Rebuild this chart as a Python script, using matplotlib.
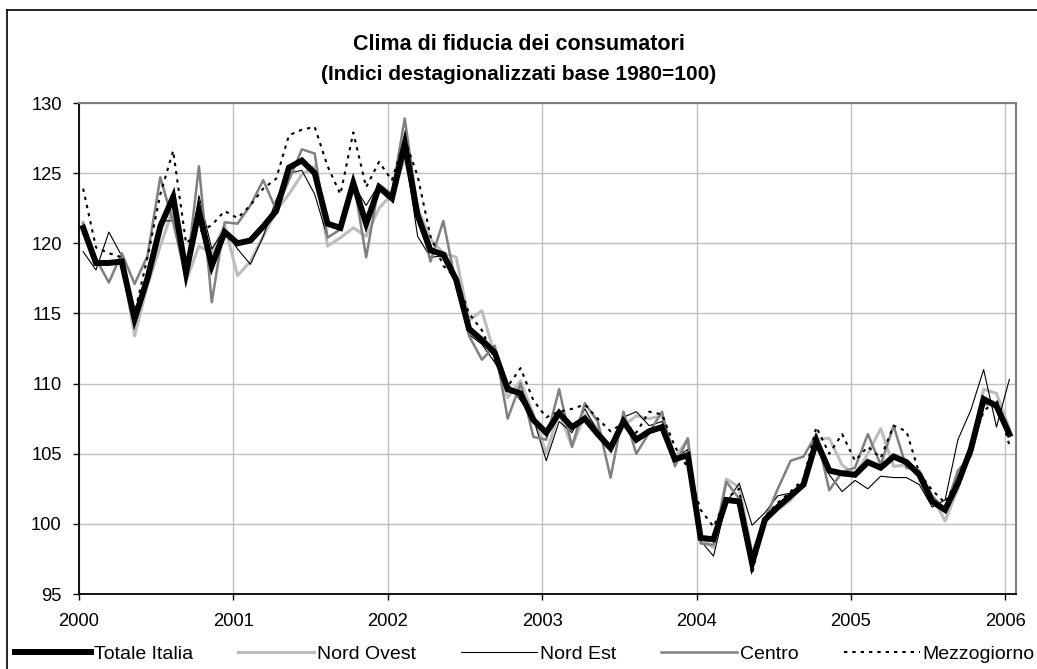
import matplotlib
matplotlib.use("Agg")
import matplotlib.pyplot as plt
from matplotlib.lines import Line2D

plt.rcParams['font.family'] = ['Liberation Sans', 'DejaVu Sans']

# -------------------------------------------------------
# Dati mensili gen 2000 - gen 2006 (indici 1980=100)
# -------------------------------------------------------
mesi = [f"{2000 + k // 12}-{k % 12 + 1:02d}" for k in range(73)]

totale_italia = [
    121.1, 118.6, 118.6, 118.7, 114.6, 117.5, 121.2, 123.3, 117.9, 122.3, 118.4, 120.8,
    120.0, 120.2, 121.2, 122.3, 125.4, 125.9, 125.0, 121.4, 121.1, 124.3, 121.4, 124.0,
    123.2, 127.1, 122.0, 119.5, 119.2, 117.4, 113.9, 113.1, 112.2, 109.6, 109.3, 107.4,
    106.5, 107.9, 106.9, 107.5, 106.4, 105.4, 107.3, 106.0, 106.6, 106.9, 104.6, 104.9,
    99.0, 98.9, 101.7, 101.6, 97.2, 100.3, 101.2, 102.0, 102.8, 105.9, 103.8, 103.6,
    103.5, 104.4, 104.0, 104.8, 104.4, 103.5, 101.6, 101.0, 102.9, 105.3, 108.9, 108.4,
    106.4,
]

nord_ovest = [
    121.5, 118.5, 118.6, 118.8, 113.4, 117.0, 119.8, 122.5, 117.3, 119.8, 119.3, 121.3,
    117.7, 118.7, 120.5, 122.3, 123.5, 124.9, 125.5, 119.8, 120.4, 121.1, 120.5, 122.5,
    123.5, 126.0, 122.5, 120.3, 119.3, 119.0, 114.5, 115.2, 112.0, 109.0, 110.2, 107.8,
    105.0, 108.0, 105.5, 107.8, 106.8, 105.2, 107.0, 107.7, 107.5, 107.7, 104.7, 106.0,
    99.0, 98.3, 103.2, 102.6, 97.9, 100.3, 101.0, 101.7, 102.9, 106.0, 106.1, 104.2,
    103.5, 105.0, 106.8, 104.1, 104.2, 103.5, 102.0, 100.2, 102.5, 105.3, 109.6, 109.3,
    106.8,
]

nord_est = [
    119.4, 118.1, 120.8, 119.1, 114.2, 117.5, 121.6, 121.6, 117.7, 123.4, 119.6, 121.0,
    119.6, 118.5, 120.5, 123.1, 125.0, 125.2, 123.5, 120.4, 121.0, 124.2, 122.7, 124.2,
    123.4, 126.7, 120.5, 119.0, 119.1, 117.3, 113.5, 112.8, 111.5, 110.0, 108.8, 107.5,
    104.5, 107.3, 106.5, 108.2, 106.6, 105.6, 107.6, 108.0, 107.0, 107.3, 104.7, 105.3,
    98.8, 97.7, 101.5, 102.9, 99.9, 100.8, 102.0, 102.2, 102.8, 105.5, 103.5, 102.3,
    103.1, 102.5, 103.4, 103.3, 103.3, 102.8, 101.2, 101.7, 106.0, 108.1, 111.0, 106.9,
    110.3,
]

centro = [
    121.4, 118.9, 117.2, 119.3, 117.1, 119.1, 124.7, 121.5, 117.5, 125.5, 115.8, 121.5,
    121.4, 122.7, 124.5, 122.4, 124.5, 126.7, 126.4, 120.4, 121.0, 124.6, 119.0, 124.2,
    123.5, 128.9, 122.5, 118.7, 121.6, 117.0, 113.4, 111.7, 112.7, 107.5, 110.0, 106.2,
    106.0, 109.6, 105.5, 108.6, 107.3, 103.3, 108.0, 105.0, 106.5, 108.0, 104.1, 106.1,
    98.6, 98.5, 103.0, 101.8, 97.8, 100.3, 102.5, 104.5, 104.8, 106.4, 102.4, 103.7,
    104.0, 106.4, 104.2, 107.0, 104.0, 103.8, 102.0, 101.0, 103.8, 104.8, 108.5, 108.6,
    106.3,
]

mezzogiorno = [
    123.9, 119.7, 119.3, 119.0, 115.0, 119.0, 123.5, 126.6, 120.0, 120.8, 121.3, 122.3,
    121.8, 122.7, 123.9, 124.6, 127.7, 128.1, 128.3, 125.5, 123.5, 127.9, 124.0, 125.8,
    124.5, 127.4, 124.8, 120.5, 118.4, 117.5, 115.0, 113.8, 111.7, 109.8, 111.1, 108.8,
    107.6, 108.0, 108.2, 108.5, 107.5, 106.6, 107.2, 106.5, 108.0, 107.8, 105.5, 104.0,
    101.0, 99.8, 101.8, 102.5, 96.4, 100.5, 101.5, 102.3, 103.2, 106.9, 105.0, 106.4,
    104.5, 105.5, 104.7, 107.0, 106.6, 103.6, 102.4, 101.5, 103.2, 105.5, 108.0, 108.9,
    105.6,
]

anni = [2000, 2001, 2002, 2003, 2004, 2005, 2006]

# posizione dei mesi sull'asse (frazione d'anno)
x = [int(m[:4]) + (int(m[5:]) - 1 + 0.32) / 12 for m in mesi]

fig = plt.figure(figsize=(10.37, 6.69), dpi=100)
ax = fig.add_axes([0.0762, 0.1121, 0.9036, 0.7339])

ax.plot(x, nord_ovest, color="#bdbdbd", lw=2.2, label="Nord Ovest", zorder=2)
ax.plot(x, nord_est, color="black", lw=0.8, label="Nord Est", zorder=2)
ax.plot(x, centro, color="#808080", lw=1.8, label="Centro", zorder=2)
ax.plot(x, totale_italia, color="black", lw=4.3, label="Totale Italia",
        solid_joinstyle="miter", zorder=3)
ax.plot(x, mezzogiorno, color="black", lw=1.5, ls=(0, (1.6, 2.4)),
        label="Mezzogiorno", zorder=4)

ax.set_xlim(2000, 2006.07)
ax.set_ylim(95, 130)
ax.set_xticks(anni)
ax.set_xticklabels([str(a) for a in anni])
ax.set_yticks(range(95, 131, 5))
ax.grid(True, color="#c0c0c0", lw=1.0)
ax.set_axisbelow(True)

ax.tick_params(axis="both", direction="out", length=4.5, width=1.0,
               labelsize=13.2, color="black")
ax.tick_params(axis="x", pad=9)
ax.tick_params(axis="y", pad=8)

for s in ["left", "bottom"]:
    ax.spines[s].set_color("black")
    ax.spines[s].set_linewidth(1.3)
for s in ["top", "right"]:
    ax.spines[s].set_color("#808080")
    ax.spines[s].set_linewidth(1.5)

# titolo su due righe
fig.text(0.5, 1 - 45 / 669, "Clima di fiducia dei consumatori",
         ha="center", va="center", fontsize=15.5, fontweight="bold")
fig.text(0.5, 1 - 75 / 669, "(Indici destagionalizzati base 1980=100)",
         ha="center", va="center", fontsize=15, fontweight="bold")

# legenda in basso, nell'ordine del grafico originale
handles, labels = ax.get_legend_handles_labels()
ordine = ["Totale Italia", "Nord Ovest", "Nord Est", "Centro", "Mezzogiorno"]
h_ord = [handles[labels.index(n)] for n in ordine]
fig.legend(h_ord, ordine, loc="center", ncol=5, frameon=False,
           bbox_to_anchor=(15 / 1037, 1 - 665 / 669, 1020 / 1037, 22 / 669),
           mode="expand", fontsize=14, handlelength=3.9, handletextpad=0.15,
           borderaxespad=0, borderpad=0)

# cornice del grafico (bordo sinistro e superiore visibili)
fig.add_artist(Line2D([7 / 1037, 7 / 1037], [0, 1 - 10 / 669], color="black", lw=1.2,
                      transform=fig.transFigure))
fig.add_artist(Line2D([7 / 1037, 1], [1 - 10 / 669, 1 - 10 / 669], color="black", lw=1.2,
                      transform=fig.transFigure))

fig.savefig("out.png", dpi=100)
